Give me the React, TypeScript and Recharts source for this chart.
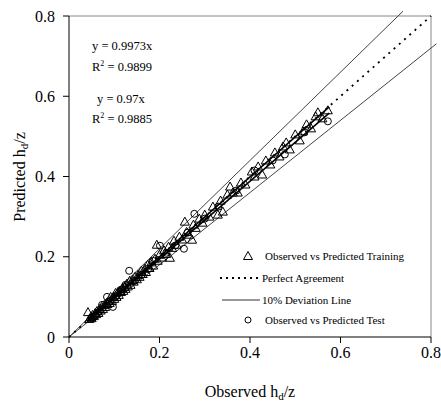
import React from 'react';
import { ComposedChart, Scatter, XAxis, YAxis, ReferenceLine, Customized } from 'recharts';

const FONT = '"Liberation Serif", "Times New Roman", serif';

const xTicks = [0, 0.2, 0.4, 0.6, 0.8];
const yTicks = [0, 0.2, 0.4, 0.6, 0.8];

const trainObs = [0.042,0.045,0.048,0.05,0.052,0.055,0.058,0.06,0.062,0.065,0.068,0.07,0.072,0.075,0.078,0.08,0.083,0.085,0.088,0.09,0.092,0.095,0.098,0.1,0.103,0.105,0.108,0.11,0.113,0.115,0.118,0.12,0.123,0.125,0.128,0.13,0.134,0.136,0.14,0.143,0.146,0.15,0.153,0.156,0.16,0.163,0.167,0.17,0.174,0.178,0.182,0.186,0.19,0.194,0.196,0.2,0.205,0.21,0.215,0.22,0.223,0.228,0.232,0.238,0.244,0.25,0.256,0.26,0.265,0.272,0.275,0.28,0.288,0.295,0.3,0.31,0.318,0.329,0.335,0.34,0.35,0.356,0.362,0.373,0.38,0.39,0.404,0.41,0.418,0.427,0.435,0.445,0.455,0.465,0.473,0.48,0.488,0.5,0.51,0.517,0.525,0.535,0.545,0.55,0.56,0.572];
const trainPred = [0.062,0.045,0.05,0.047,0.055,0.052,0.06,0.057,0.065,0.06,0.07,0.066,0.075,0.07,0.08,0.075,0.085,0.082,0.09,0.085,0.1,0.09,0.1,0.095,0.11,0.1,0.112,0.105,0.115,0.112,0.122,0.115,0.125,0.12,0.133,0.126,0.14,0.13,0.142,0.138,0.15,0.144,0.155,0.15,0.165,0.157,0.17,0.162,0.18,0.172,0.186,0.178,0.195,0.23,0.19,0.205,0.198,0.216,0.207,0.225,0.1975,0.222,0.24,0.23,0.25,0.243,0.2875,0.262,0.255,0.2425,0.28,0.272,0.295,0.285,0.305,0.3,0.325,0.305,0.34,0.3125,0.355,0.375,0.36,0.36,0.385,0.38,0.4125,0.4,0.425,0.405,0.44,0.43,0.46,0.45,0.475,0.485,0.4675,0.505,0.49,0.5125,0.53,0.52,0.55,0.56,0.545,0.565];

const testObs = [0.05,0.058,0.066,0.073,0.084,0.09,0.097,0.105,0.115,0.125,0.133,0.145,0.16,0.175,0.185,0.201,0.215,0.235,0.254,0.262,0.277,0.3,0.33,0.37,0.41,0.45,0.477,0.52,0.572];
const testPred = [0.048,0.052,0.062,0.08,0.1,0.088,0.075,0.102,0.118,0.13,0.165,0.14,0.155,0.17,0.19,0.2275,0.21,0.228,0.22,0.26,0.307,0.295,0.325,0.365,0.415,0.44,0.455,0.51,0.5375];

const trainSlope = 0.9973;
const testSlope = 0.97;
const fitStart = 0.04;
const fitEnd = 0.575;
const deviation = 0.1;
const axisMax = 0.8;
const lineOverhang = 0.012;

const trainData = trainObs.map((x, i) => ({ x, y: trainPred[i] }));
const testData = testObs.map((x, i) => ({ x, y: testPred[i] }));

const Triangle = (props: any) => {
  const { cx, cy } = props;
  if (cx == null || cy == null) return null;
  return (
    <path
      d={`M${cx},${cy - 4.5}L${cx - 4.5},${cy + 3.5}L${cx + 4.5},${cy + 3.5}Z`}
      fill="none"
      stroke="#000"
      strokeWidth={1}
    />
  );
};

const Circle = (props: any) => {
  const { cx, cy } = props;
  if (cx == null || cy == null) return null;
  return <circle cx={cx} cy={cy} r={3.5} fill="none" stroke="#000" strokeWidth={1} />;
};

const Overlay = () => (
  <g fontFamily={FONT} fill="#000">
    <text x={92} y={50} fontSize={12.5}>y = 0.9973x</text>
    <text x={92} y={71} fontSize={12.5}>R<tspan fontSize={8} dy={-5}>2</tspan><tspan dy={5}> = 0.9899</tspan></text>
    <text x={97} y={103} fontSize={12.5}>y = 0.97x</text>
    <text x={92} y={123} fontSize={12.5}>R<tspan fontSize={8} dy={-5}>2</tspan><tspan dy={5}> = 0.9885</tspan></text>

    <path d="M248,251.5L243.5,259.5L252.5,259.5Z" fill="none" stroke="#000" strokeWidth={1} />
    <text x={265} y={260} fontSize={11}>Observed vs Predicted Training</text>
    <line x1={220} y1={278} x2={260} y2={278} stroke="#000" strokeWidth={1.8} strokeDasharray="2 4" />
    <text x={262} y={282} fontSize={11}>Perfect Agreement</text>
    <line x1={222} y1={300} x2={260} y2={300} stroke="#333" strokeWidth={1} />
    <text x={262} y={304} fontSize={11}>10% Deviation Line</text>
    <circle cx={248} cy={320} r={3} fill="none" stroke="#000" strokeWidth={1} />
    <text x={265} y={324} fontSize={11}>Observed vs Predicted Test</text>

    <text x={250} y={397} fontSize={16} textAnchor="middle">
      Observed h<tspan fontSize={11} dy={3}>d</tspan><tspan dy={-3}>/z</tspan>
    </text>
    <text x={0} y={0} fontSize={16} textAnchor="middle" transform="translate(25,177) rotate(-90)">
      Predicted h<tspan fontSize={11} dy={3}>d</tspan><tspan dy={-3}>/z</tspan>
    </text>
  </g>
);

const fmt = (v: number) => (v === 0 ? '0' : String(v));

export default function App() {
  return (
    <div style={{ position: 'absolute', left: 0, top: 0, width: 441, height: 403, overflow: 'hidden' }}>
      <ComposedChart
        width={441}
        height={403}
        margin={{ top: 16, right: 10, left: 0, bottom: 0 }}
        style={{ fontFamily: FONT, overflow: 'visible', display: 'block' }}
      >
        <XAxis
          type="number"
          dataKey="x"
          domain={[0, axisMax]}
          ticks={xTicks}
          tickFormatter={fmt}
          interval={0}
          height={66}
          tickSize={6}
          tickMargin={4}
          stroke="#000"
          tick={{ fontSize: 16, fill: '#000', fontFamily: FONT }}
          allowDataOverflow
        />
        <YAxis
          type="number"
          dataKey="y"
          domain={[0, axisMax]}
          ticks={yTicks}
          tickFormatter={fmt}
          interval={0}
          width={69}
          tickSize={6}
          tickMargin={8}
          stroke="#000"
          tick={{ fontSize: 16, fill: '#000', fontFamily: FONT }}
          allowDataOverflow
        />
        <ReferenceLine y={axisMax} stroke="#888" strokeWidth={1} />
        <ReferenceLine x={axisMax} stroke="#888" strokeWidth={1} />
        <ReferenceLine
          segment={[{ x: 0, y: 0 }, { x: (axisMax + lineOverhang) / (1 + deviation), y: axisMax + lineOverhang }]}
          stroke="#444"
          strokeWidth={1}
          ifOverflow="visible"
        />
        <ReferenceLine
          segment={[{ x: 0, y: 0 }, { x: axisMax + lineOverhang, y: (axisMax + lineOverhang) * (1 - deviation) }]}
          stroke="#444"
          strokeWidth={1}
          ifOverflow="visible"
        />
        <ReferenceLine
          segment={[{ x: 0, y: 0 }, { x: axisMax, y: axisMax }]}
          stroke="#000"
          strokeWidth={1.8}
          strokeDasharray="2 5"
        />
        <Scatter data={trainData} shape={Triangle} isAnimationActive={false} />
        <Scatter data={testData} shape={Circle} isAnimationActive={false} />
        <ReferenceLine
          segment={[{ x: fitStart, y: fitStart * trainSlope }, { x: fitEnd, y: fitEnd * trainSlope }]}
          stroke="#000"
          strokeWidth={1.6}
        />
        <ReferenceLine
          segment={[{ x: fitStart, y: fitStart * testSlope }, { x: fitEnd, y: fitEnd * testSlope }]}
          stroke="#000"
          strokeWidth={1.6}
        />
        <Customized component={Overlay} />
      </ComposedChart>
    </div>
  );
}
